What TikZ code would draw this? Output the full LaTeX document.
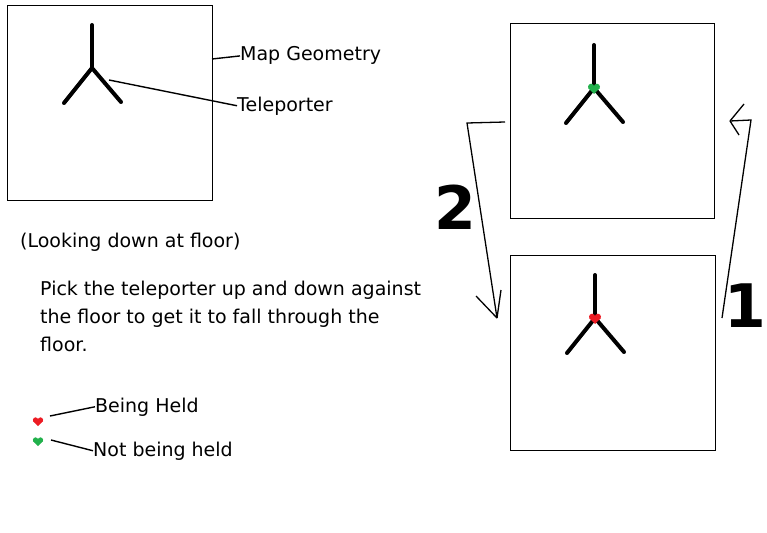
\documentclass[tikz,border=0pt]{standalone}
\usepackage{fontspec}
\setmainfont{DejaVu Sans}
\definecolor{heldred}{RGB}{237,28,36}
\definecolor{freegreen}{RGB}{34,177,76}
\tikzset{
  pics/heart/.style={code={
    \fill[#1] (-2.9,-1.2) circle (3.1) (2.9,-1.2) circle (3.1);
    \fill[#1] (-5.9,0) -- (5.9,0) -- (0,6) -- cycle;}}
}
\begin{document}
\begin{tikzpicture}[x=1pt,y=-1pt,
  frame/.style={draw, line width=1.2pt, inner sep=0pt, anchor=north west},
  prong/.style={line width=4pt, line cap=round},
  leader/.style={line width=1.4pt},
  label/.style={anchor=base west, inner sep=0pt, font=\fontsize{19}{28}\selectfont},
  bignum/.style={inner sep=0pt, font=\fontsize{60}{60}\selectfont\bfseries},
  flow/.style={line width=1.3pt}]
	\useasboundingbox (0,0) rectangle (767,532);
	% the three floors
	\node[frame, minimum width=205, minimum height=195] (mapBox) at (7,5) {};
	\node[frame, minimum width=204, minimum height=195] (upBox) at (510,23) {};
	\node[frame, minimum width=205, minimum height=195] (downBox) at (510,255) {};
	% teleporters
	\foreach \cx/\cy/\nm in {92/68/telA, 594/88/telB, 595/318/telC} {
		\coordinate (\nm) at (\cx,\cy);
		\draw[prong] (\nm) -- ++(0,-43);
		\draw[prong] (\nm) -- ++(-28,35);
		\draw[prong] (\nm) -- ++(29,34);
	}
	\pic at (telB) {heart=freegreen};
	\pic at (telC) {heart=heldred};
	% labels
	\node[label] (geoText) at (240,61) {Map Geometry};
	\node[label] (telText) at (237,111) {Teleporter};
	\coordinate (geoEdge) at (212,59);
	\coordinate (telArm) at (109,80);
	\draw[leader] (geoEdge) -- (geoText.west);
	\draw[leader] (telArm) -- (telText.west);
	\node[label] (viewText) at (20,247) {(Looking down at floor)};
	\node[label, align=left, anchor=north west] (howText) at (40,281)
		{Pick the teleporter up and down against\\the floor to get it to fall through the\\floor.};
	% legend
	\pic[scale=0.85] at (38,421) {heart=heldred};
	\pic[scale=0.85] at (38,441) {heart=freegreen};
	\coordinate (redKey) at (50,416);
	\coordinate (greenKey) at (51,440);
	\node[label] (heldText) at (95,412) {Being Held};
	\node[label] (freeText) at (93,456) {Not being held};
	\draw[leader] (redKey) -- (heldText.west);
	\draw[leader] (greenKey) -- (freeText.west);
	% arrows between floors
	\coordinate (twoStart) at (505,122);
	\coordinate (twoBend) at (467,123);
	\coordinate (twoTip) at (497,318);
	\draw[flow] (twoStart) -- (twoBend) -- (twoTip);
	\draw[flow] (twoTip) -- ++(-21,-22);
	\draw[flow] (twoTip) -- ++(4,-28);
	\node[bignum] (numTwo) at (455,207) {2};
	\coordinate (oneStart) at (722,318);
	\coordinate (oneBend) at (751,120);
	\coordinate (oneTip) at (730,121);
	\draw[flow] (oneStart) -- (oneBend) -- (oneTip);
	\draw[flow] (oneTip) -- ++(14,-17);
	\draw[flow] (oneTip) -- ++(9,14);
	\node[bignum] (numOne) at (745,306) {1};
\end{tikzpicture}
\end{document}
